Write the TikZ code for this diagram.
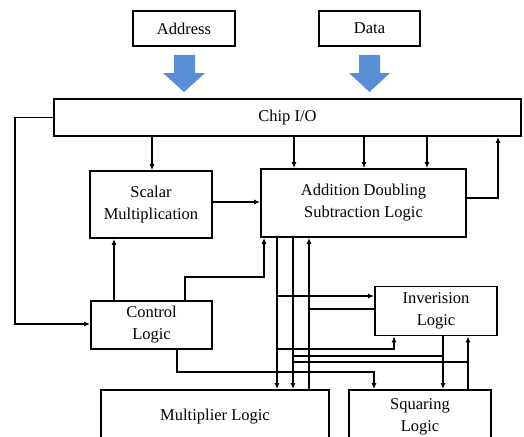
\documentclass[tikz,border=0pt]{standalone}
\usepackage{fontspec}
\setmainfont{Liberation Serif}
\usetikzlibrary{arrows.meta,calc}
\definecolor{bigblue}{RGB}{87,142,214}
\begin{document}
\begin{tikzpicture}[x=1pt,y=-1pt,
  box/.style={draw, line width=1.8pt, inner sep=0pt, align=center,
    font=\fontsize{16.5}{22}\selectfont},
  arr/.style={line width=1.7pt, -{Latex[length=6pt,width=5pt]}},
  ln/.style={line width=1.7pt},
  blockarrow/.style={fill=bigblue}
]
\useasboundingbox (0,0) rectangle (524,436);

% boxes
\node[box, minimum width=102pt, minimum height=35pt] (addr) at (184,28.5) {Address};
\node[box, minimum width=101pt, minimum height=35pt] (data) at (369.5,28.5) {Data};
\node[box, minimum width=467pt, minimum height=37pt] (chip) at (287.5,117.5) {Chip I/O};
\node[box, minimum width=122pt, minimum height=67pt] (scalar) at (151,204.5) {Scalar\\Multiplication};
\node[box, minimum width=205pt, minimum height=68pt] (add) at (363.5,203) {Addition Doubling\\Subtraction Logic};
\node[box, minimum width=121pt, minimum height=48pt] (ctrl) at (151.5,325) {Control\\Logic};
\node[box, minimum width=122pt, minimum height=49pt] (inv) at (436,311) {Inverision\\Logic};
\node[box, minimum width=228pt, minimum height=54pt] (mult) at (215,417) {Multiplier Logic};
\node[box, minimum width=142pt, minimum height=53pt] (sq) at (420,416.5) {Squaring\\Logic};

% block arrows
\fill[blockarrow] (174,55) -- (195,55) -- (195,73) -- (205,73) -- (184,92) -- (163,73) -- (174,73) -- cycle;
\fill[blockarrow] (359,55) -- (380,55) -- (380,73) -- (390,73) -- (369.5,92) -- (349,73) -- (359,73) -- cycle;

% x positions
\coordinate (xa) at (152,0);
\coordinate (xb) at (294,0);
\coordinate (xc) at (364,0);
\coordinate (xd) at (427,0);
\coordinate (xe) at (498,0);
\coordinate (lx) at (15,0);
\coordinate (xs) at (114,0);
\coordinate (xt) at (185,0);
\coordinate (xu) at (264,0);
\coordinate (p1) at (277,0);
\coordinate (p2) at (293,0);
\coordinate (p3) at (309,0);
\coordinate (q1) at (394,0);
\coordinate (q2) at (443,0);
\coordinate (q3) at (468,0);
\coordinate (q4) at (177,0);
\coordinate (q5) at (374,0);
% y positions
\coordinate (ysa) at (0,202);
\coordinate (yac) at (0,198);
\coordinate (yca) at (0,277);
\coordinate (yl) at (0,324);
\coordinate (y296) at (0,296);
\coordinate (y309) at (0,309);
\coordinate (y349) at (0,349);
\coordinate (y356) at (0,356);
\coordinate (y362) at (0,362);
\coordinate (y372) at (0,372);

% chip I/O outputs
\draw[arr] (chip.south -| xa) -- (scalar.north -| xa);
\draw[arr] (chip.south -| xb) -- (add.north -| xb);
\draw[arr] (chip.south -| xc) -- (add.north -| xc);
\draw[arr] (chip.south -| xd) -- (add.north -| xd);
\draw[arr] (add.east |- yac) -| (chip.south -| xe);
\draw[arr] (chip.west) -- (chip.west -| lx) |- (ctrl.west |- yl);

% scalar -> add
\draw[arr] (scalar.east |- ysa) -- (add.west |- ysa);

% control
\draw[arr] (ctrl.north -| xs) -- (scalar.south -| xs);
\draw[arr] (ctrl.north -| xt) -- (xt |- yca) -| (add.south -| xu);
\draw[arr] (ctrl.south -| q4) -- (q4 |- y372) -| (sq.north -| q5);

% add <-> mult
\draw[arr] (add.south -| p1) -- (mult.north -| p1);
\draw[arr] (add.south -| p2) -- (mult.north -| p2);
\draw[arr] (mult.north -| p3) -- (add.south -| p3);

% inversion
\draw[arr] (p1 |- y296) -- (inv.west |- y296);
\draw[ln] (inv.west |- y309) -- (p3 |- y309);
\draw[arr] (p1 |- y349) -| (inv.south -| q1);
\draw[arr] (inv.south -| q2) -- (sq.north -| q2);
\draw[ln] (q2 |- y356) -- (p2 |- y356);
\draw[arr] (sq.north -| q3) -- (inv.south -| q3);
\draw[ln] (q3 |- y362) -- (p2 |- y362);
\end{tikzpicture}
\end{document}
